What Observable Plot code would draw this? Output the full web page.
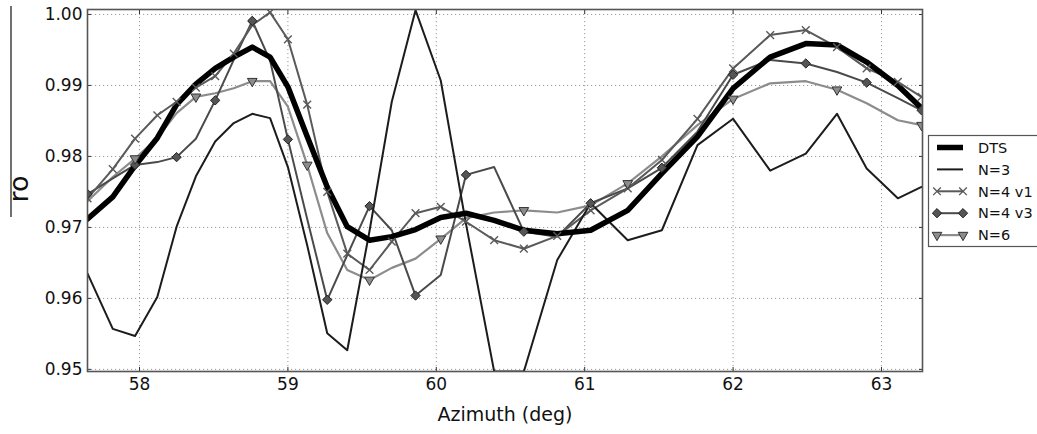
<!DOCTYPE html>
<html><head><meta charset="utf-8">
<script src="https://cdn.jsdelivr.net/npm/d3@7"></script>
<script src="https://cdn.jsdelivr.net/npm/@observablehq/plot@0.6"></script>
<style>
body{margin:0;background:#fff;}
#wrap{position:relative;width:1037px;height:434px;}
</style></head><body><div id="wrap"></div>
<script>
// ---- data ----
const azimuth = [57.65,57.82,57.97,58.12,58.25,58.38,58.51,58.635,58.76,58.88,59.0,59.13,59.265,59.40,59.55,59.70,59.86,60.03,60.20,60.39,60.59,60.815,61.04,61.29,61.52,61.76,62.0,62.25,62.49,62.70,62.90,63.11,63.27];
const dts  = [0.9712,0.9743,0.9787,0.9826,0.9873,0.9902,0.9924,0.9940,0.9954,0.9940,0.9898,0.9828,0.9757,0.9701,0.9682,0.9687,0.9697,0.9714,0.9720,0.9710,0.9696,0.9691,0.9696,0.9724,0.9776,0.9828,0.9896,0.9940,0.9959,0.9957,0.9933,0.9900,0.9868];
const n3   = [0.9635,0.9557,0.9547,0.9602,0.9701,0.9772,0.9821,0.9847,0.9860,0.9854,0.9785,0.9675,0.9551,0.9527,0.9695,0.9877,1.0006,0.9907,0.9705,0.9497,0.9497,0.9654,0.9734,0.9682,0.9696,0.9816,0.9853,0.9780,0.9804,0.9860,0.9783,0.9741,0.9757];
const n4v1 = [0.9741,0.9782,0.9825,0.9858,0.9877,0.9897,0.9913,0.9945,0.9985,1.0003,0.9965,0.9873,0.9750,0.9663,0.9640,0.9680,0.9720,0.9729,0.9708,0.9682,0.9670,0.9688,0.9724,0.9755,0.9795,0.9853,0.9924,0.9971,0.9978,0.9954,0.9924,0.9905,0.9884];
const n4v3 = [0.9747,0.9769,0.9788,0.9792,0.9799,0.9825,0.9879,0.9936,0.9991,0.9935,0.9824,0.9712,0.9598,0.9661,0.9730,0.9696,0.9604,0.9633,0.9774,0.9785,0.9694,0.9687,0.9734,0.9755,0.9784,0.9835,0.9915,0.9936,0.9931,0.9919,0.9904,0.9882,0.9865];
const n6   = [0.9737,0.9771,0.9797,0.9826,0.9861,0.9884,0.9889,0.9896,0.9906,0.9906,0.9870,0.9788,0.9692,0.9640,0.9626,0.9643,0.9656,0.9684,0.9713,0.9721,0.9724,0.9721,0.9731,0.9762,0.9800,0.9844,0.9881,0.9903,0.9906,0.9894,0.9875,0.9851,0.9844];
const seriesNames = ["DTS","N=3","N=4 v1","N=4 v3","N=6"];
const xTicks = [58,59,60,61,62,63];
const yTicks = [0.95,0.96,0.97,0.98,0.99,1.00];
const xLabel = "Azimuth (deg)";
const yLabel = "ro";

// ---- build ----
const valuesByName = {"DTS":dts,"N=3":n3,"N=4 v1":n4v1,"N=4 v3":n4v3,"N=6":n6};
const rows = seriesNames.flatMap(name => valuesByName[name].map((v,i)=>({x:azimuth[i], y:v, name, i})));
const sel = name => rows.filter(d => d.name === name);

const style = {
  "DTS":    {stroke:"#000000", sw:5.5},
  "N=3":    {stroke:"#1c1c1c", sw:2},
  "N=4 v1": {stroke:"#5a5a5a", sw:2},
  "N=4 v3": {stroke:"#4a4a4a", sw:2},
  "N=6":    {stroke:"#8c8c8c", sw:2.2}
};

const font = "DejaVu Sans, sans-serif";
const chart = Plot.plot({
  width: 1037, height: 434,
  marginLeft: 87, marginRight: 115, marginTop: 9, marginBottom: 63,
  style: {fontFamily: font, background: "#fff", color: "#111"},
  x: {domain: [57.6496, 63.2763], label: null},
  y: {domain: [0.9497, 1.0007], label: null},
  marks: [
    Plot.gridX(xTicks, {stroke:"#9a9a9a", strokeOpacity:1, strokeDasharray:"1.2,2.8", strokeWidth:1}),
    Plot.gridY(yTicks, {stroke:"#9a9a9a", strokeOpacity:1, strokeDasharray:"1.2,2.8", strokeWidth:1}),
    ...["N=6","N=4 v3","N=4 v1","N=3","DTS"].map(n =>
      Plot.line(sel(n), {x:"x", y:"y", stroke: style[n].stroke, strokeWidth: style[n].sw, strokeLinejoin:"round", clip:true})),
    Plot.dot(sel("N=4 v1"), {x:"x", y:"y", symbol:"times", r:3.6, stroke:"#5a5a5a", strokeWidth:1.4, clip:true}),
    Plot.dot(sel("N=4 v3").filter(d => d.i % 2 === 0), {x:"x", y:"y", symbol:"diamond2", r:4.2, fill:"#555", stroke:"#222", strokeWidth:1, clip:true}),
    Plot.dot(sel("N=6").filter(d => d.i % 3 === 2), {x:"x", y:"y", symbol:"triangle", rotate:180, r:3.6, fill:"#8c8c8c", stroke:"#333", strokeWidth:1, clip:true}),
    Plot.axisX(xTicks, {tickSize:-4, tickFormat:()=>"", stroke:"#333"}),
    Plot.axisX(xTicks, {anchor:"top", tickSize:-4, tickFormat:()=>"", stroke:"#333", label:null}),
    Plot.axisY(yTicks, {tickSize:-4, tickFormat:()=>"", stroke:"#333"}),
    Plot.axisY(yTicks, {anchor:"right", tickSize:-4, tickFormat:()=>"", stroke:"#333", label:null}),
    Plot.axisX(xTicks, {tickSize:0, tickPadding:6, fontSize:17, tickFormat: d => String(d), label:null}),
    Plot.axisY(yTicks, {tickSize:0, tickPadding:5, fontSize:17, tickFormat: d3.format(".2f"), label:null}),
    Plot.frame({stroke:"#555", strokeWidth:1.6})
  ]
});
document.getElementById("wrap").appendChild(chart);

// ---- axis titles + legend (annotations in the same svg) ----
const svg = d3.select(chart);
svg.append("text").attr("x", 505).attr("y", 421).attr("text-anchor","middle")
  .style("font-family", font).style("font-size","19px").attr("fill","#111").text(xLabel);
svg.append("line").attr("x1",11).attr("x2",11).attr("y1",6).attr("y2",217).attr("stroke","#111").attr("stroke-width",1.2);
svg.append("text").attr("transform","translate(28,189) rotate(-90)").attr("text-anchor","middle")
  .style("font-family", font).style("font-size","27px").attr("fill","#111").text(yLabel);

const lg = svg.append("g");
lg.append("rect").attr("x",928.5).attr("y",135.5).attr("width",120).attr("height",111).attr("fill","#fff").attr("stroke","#555").attr("stroke-width",1.2);
const lx1 = 937, lx2 = 963;
seriesNames.forEach((n, k) => {
  const y = 147.5 + k*21.9;
  lg.append("line").attr("x1",lx1).attr("x2",lx2).attr("y1",y).attr("y2",y).attr("stroke",style[n].stroke).attr("stroke-width",style[n].sw);
  [lx1, lx2].forEach(cx => {
    if (n === "N=4 v1") {
      lg.append("path").attr("d", d3.symbol(d3.symbolTimes, 40)()).attr("transform",`translate(${cx},${y})`).attr("stroke","#5a5a5a").attr("stroke-width",1.4).attr("fill","none");
    } else if (n === "N=4 v3") {
      lg.append("path").attr("d", d3.symbol(d3.symbolDiamond2, 55)()).attr("transform",`translate(${cx},${y})`).attr("fill","#555").attr("stroke","#222");
    } else if (n === "N=6") {
      lg.append("path").attr("d", d3.symbol(d3.symbolTriangle, 40)()).attr("transform",`translate(${cx},${y}) rotate(180)`).attr("fill","#8c8c8c").attr("stroke","#333");
    }
  });
  lg.append("text").attr("x",978).attr("y",y).attr("dy","0.36em").attr("text-anchor","start")
    .style("font-family", font).style("font-size","14.5px").attr("fill","#111").text(n);
});
</script>
</body></html>
